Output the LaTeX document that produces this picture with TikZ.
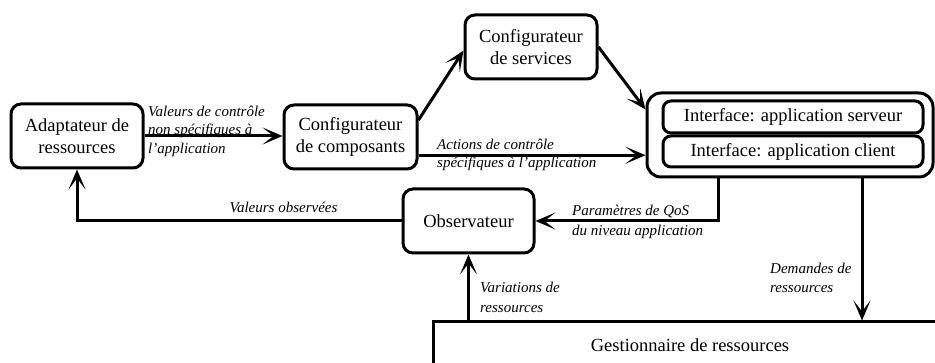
\documentclass[tikz,border=0pt]{standalone}
\usepackage{fontspec}
\setmainfont{Liberation Serif}
\usetikzlibrary{arrows.meta,calc}

\begin{document}
\begin{tikzpicture}[x=1pt,y=-1pt,
  box/.style={draw, line width=3pt, rounded corners=10pt, align=center,
    font=\fontsize{18.5}{22}\selectfont, inner sep=0pt},
  arr/.style={line width=3pt, -{Stealth[length=20pt,width=17pt,inset=11pt]}},
  lbl/.style={align=left, inner sep=0pt, anchor=west},
  lblfont/.style={font=\fontsize{15}{#1}\selectfont\itshape},
]
\useasboundingbox (0,0) rectangle (935,363);
\clip (0,0) rectangle (935,363);

% components
\node[box, minimum width=132pt, minimum height=64pt] (ada) at (77,136) {Adaptateur de\\ressources};
\node[box, minimum width=133pt, minimum height=64pt] (comp) at (350.5,137) {Configurateur\\de composants};
\node[box, minimum width=132pt, minimum height=64pt] (serv) at (531,47) {Configurateur\\de services};
\node[box, minimum width=131pt, minimum height=64pt] (obs) at (468.5,221) {Observateur};

% application with its two interfaces
\node[box, rounded corners=14pt, minimum width=286pt, minimum height=84pt] (iface) at (790,135) {};
\node[box, rounded corners=8pt, minimum width=260pt, minimum height=32pt] (srv) at (793,117) {Interface: application serveur};
\node[box, rounded corners=8pt, minimum width=260pt, minimum height=31pt] (cli) at (793,151.5) {Interface: application client};

% resource manager (runs off the page)
\node[draw, line width=3pt, minimum width=514pt, minimum height=46pt, inner sep=0pt,
  font=\fontsize{18.5}{22}\selectfont] (gest) at (690,345) {Gestionnaire de ressources};

% connectors
\draw[arr] (ada.east) -- (ada.east -| comp.west);
\draw[arr] (comp.14) -- (serv.183);
\draw[arr] (serv.east) -- (iface.170);
\draw[arr] (comp.-15) -- (comp.-15 -| iface.west);
\coordinate (qos) at ($(iface.south)+(-72,0)$);
\draw[arr] (qos) |- (obs.east);
\coordinate (dem) at ($(iface.south)+(72,0)$);
\draw[arr] (dem) -- (dem |- gest.north);
\draw[arr] (gest.north -| obs.south) -- (obs.south);
\draw[arr] (obs.west) -| (ada.south);

% connector labels
\node[lbl, lblfont=18.5] (l1) at (148,131) {Valeurs de contrôle\\non spécifiques à\\l'application};
\node[lbl, lblfont=18] (l2) at (437,155) {Actions de contrôle\\spécifiques à l'application};
\node[lbl, lblfont=18, anchor=center] (l3) at (283.5,207) {Valeurs observées};
\node[lbl, lblfont=20] (l4) at (572,222) {Paramètres de QoS\\du niveau application};
\node[lbl, lblfont=19] (l5) at (770,277.5) {Demandes de\\ressources};
\node[lbl, lblfont=20] (l6) at (480,297) {Variations de\\ressources};
\end{tikzpicture}
\end{document}
